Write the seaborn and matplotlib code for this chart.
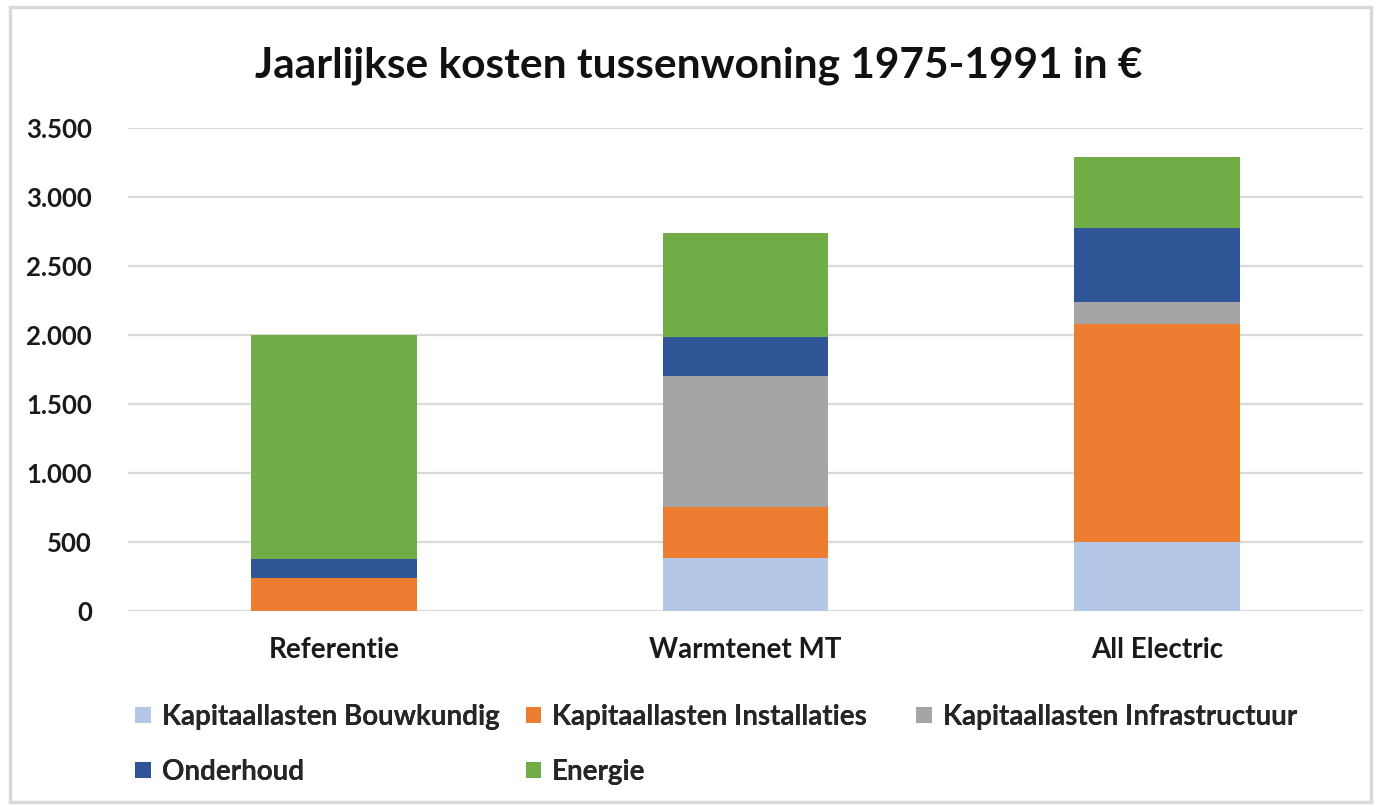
import pandas as pd
import numpy as np
import matplotlib
matplotlib.use('Agg')
import matplotlib.pyplot as plt
import seaborn as sns
from matplotlib.patches import Patch, Rectangle

# data
varianten = ['Referentie', 'Warmtenet MT', 'All Electric']
bouwkundig = [0, 387, 498]
installaties = [237, 365, 1584]
infrastructuur = [0, 950, 157]
onderhoud = [138, 286, 537]
energie = [1625, 756, 515]

componenten = ['Kapitaallasten Bouwkundig', 'Kapitaallasten Installaties',
               'Kapitaallasten Infrastructuur', 'Onderhoud', 'Energie']
kleuren = ['#B4C7E7', '#ED7D31', '#A5A5A5', '#2F5597', '#70AD47']

sns.set_theme(style='white')
plt.rcParams['font.family'] = ['Lato', 'DejaVu Sans']

# long table with cumulative tops, so the stacks can be drawn back to front
waarden = np.array([bouwkundig, installaties, infrastructuur, onderhoud, energie], dtype=float)
cumulatief = waarden.cumsum(axis=0)
rows = []
for i, comp in enumerate(componenten):
    for j, var in enumerate(varianten):
        rows.append({'component': comp, 'variant': var, 'top': cumulatief[i, j]})
df = pd.DataFrame(rows)

fig = plt.figure(figsize=(13.8, 8.07), dpi=100)
ax = fig.add_axes([0.0928, 0.2429, 0.8949, 0.5979])

for i in reversed(range(len(componenten))):
    sub = df[df['component'] == componenten[i]]
    sns.barplot(data=sub, x='variant', y='top', color=kleuren[i], width=0.403,
                saturation=1, linewidth=0, edgecolor='none', ax=ax, order=varianten)

ax.set_ylim(0, 3500)
ax.set_xlim(-0.5, 2.5)
ax.set_yticks(np.arange(0, 3501, 500))
ax.set_yticklabels([f'{int(v):,}'.replace(',', '.') for v in np.arange(0, 3501, 500)])
ax.yaxis.grid(True, color='#D9D9D9', linewidth=1.6)
ax.set_axisbelow(True)
for s in ax.spines.values():
    s.set_visible(False)
ax.set_xlabel('')
ax.set_ylabel('')
ax.tick_params(axis='y', length=0, pad=26, labelsize=18.5)
ax.tick_params(axis='x', length=0, pad=19, labelsize=20)
for lab in ax.get_xticklabels() + ax.get_yticklabels():
    lab.set_fontweight('bold')
    lab.set_color('#1a1a1a')

fig.text(0.5066, 0.919, 'Jaarlijkse kosten tussenwoning 1975-1991 in €',
         ha='center', va='center', fontsize=30.5, fontweight='bold', color='#111111')

# legend: Excel-style equal columns, so one small legend per column
handles = [Patch(facecolor=kleuren[i], edgecolor='none', label=componenten[i]) for i in range(5)]
kolommen = [[0, 3], [1, 4], [2]]
kolom_x = [0.098, 0.381, 0.664]
for xk, kol in zip(kolom_x, kolommen):
    leg = fig.legend([handles[i] for i in kol], [componenten[i] for i in kol],
                     loc='upper left', bbox_to_anchor=(xk, 0.128), frameon=False,
                     prop={'size': 20, 'weight': 'bold'}, handlelength=0.55, handleheight=0.55,
                     handletextpad=0.4, labelspacing=1.05, borderpad=0, borderaxespad=0)
    fig.add_artist(leg)

# light grey frame around the chart
fig.patches.append(Rectangle((0.0072, 0.006), 0.986, 0.985, transform=fig.transFigure,
                             fill=False, edgecolor='#D9D9D9', linewidth=2.5))

fig.savefig('out.png', dpi=100)
